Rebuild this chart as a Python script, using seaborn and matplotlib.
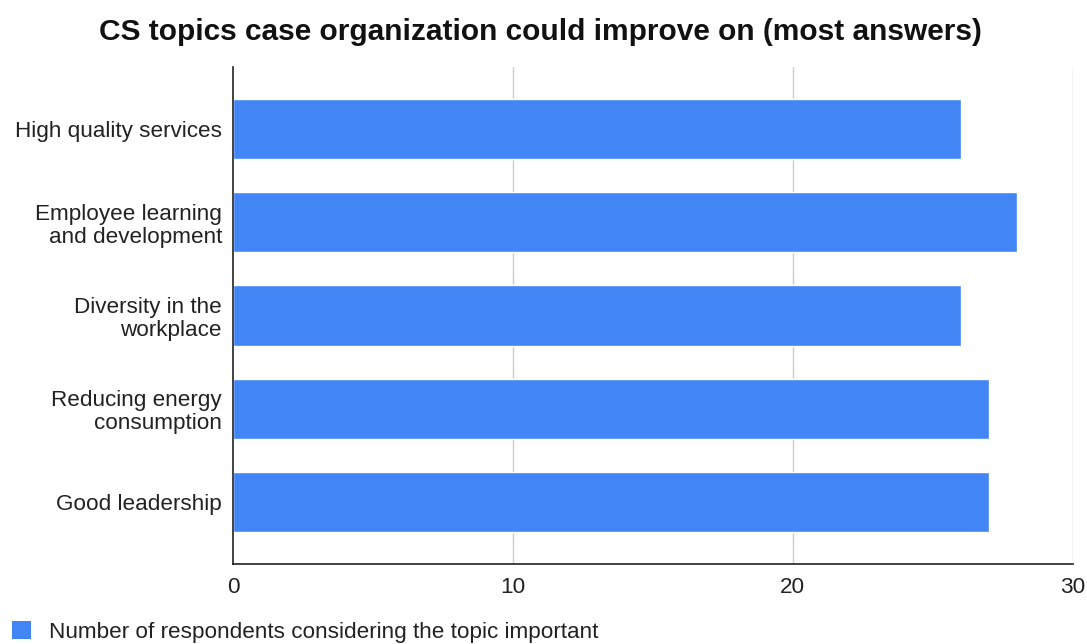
import matplotlib
matplotlib.use("Agg")
import matplotlib.pyplot as plt
import seaborn as sns
import pandas as pd
from matplotlib.patches import Patch

topics = [
    "High quality services",
    "Employee learning\nand development",
    "Diversity in the\nworkplace",
    "Reducing energy\nconsumption",
    "Good leadership",
]
respondents = [26, 28, 26, 27, 27]
series_name = "Number of respondents considering the topic important"
title = "CS topics case organization could improve on (most answers)"
x_ticks = [0, 10, 20, 30]

bar_color = "#4285F4"
label_size = 16.2

sns.set_theme(style="white")
plt.rcParams["font.family"] = ["Liberation Sans", "DejaVu Sans"]

df = pd.DataFrame({"topic": topics, "count": respondents})

fig = plt.figure(figsize=(10.87, 6.44), dpi=100)
ax = fig.add_axes([0.2144, 0.1242, 0.7724, 0.7718])

sns.barplot(data=df, x="count", y="topic", orient="h", color=bar_color,
            saturation=1, width=0.645, ax=ax, zorder=3)

ax.set_xlim(0, 30)
ax.set_ylim(4.67, -0.67)
ax.set_xticks(x_ticks)
ax.set_xticklabels([str(t) for t in x_ticks], fontsize=label_size, color="#222222")
ax.tick_params(axis="y", labelsize=label_size, colors="#222222", length=0, pad=8)
ax.tick_params(axis="x", length=0, pad=9)
for lbl in ax.get_yticklabels():
    lbl.set_horizontalalignment("right")
    lbl.set_multialignment("right")
    lbl.set_linespacing(1.12)
ax.set_xlabel("")
ax.set_ylabel("")

# vertical grid lines (except the one on the left axis)
for t in x_ticks[1:]:
    ax.axvline(t, color="#cccccc", linewidth=1, zorder=1)

for side in ["top", "right"]:
    ax.spines[side].set_visible(False)
for side in ["left", "bottom"]:
    ax.spines[side].set_color("#222222")
    ax.spines[side].set_linewidth(1.2)
    ax.spines[side].set_zorder(4)

fig.text(0.497, 0.950, title, ha="center", va="center",
         fontsize=21.5, fontweight="bold", color="#111111")

handle = Patch(facecolor=bar_color, edgecolor="none")
fig.legend([handle], [series_name], loc="center left",
           bbox_to_anchor=(0.011, 0.0186), frameon=False, fontsize=label_size,
           borderpad=0, borderaxespad=0,
           handlelength=0.85, handleheight=0.85, handletextpad=0.8,
           labelcolor="#222222")

fig.savefig("out.png", dpi=100)
